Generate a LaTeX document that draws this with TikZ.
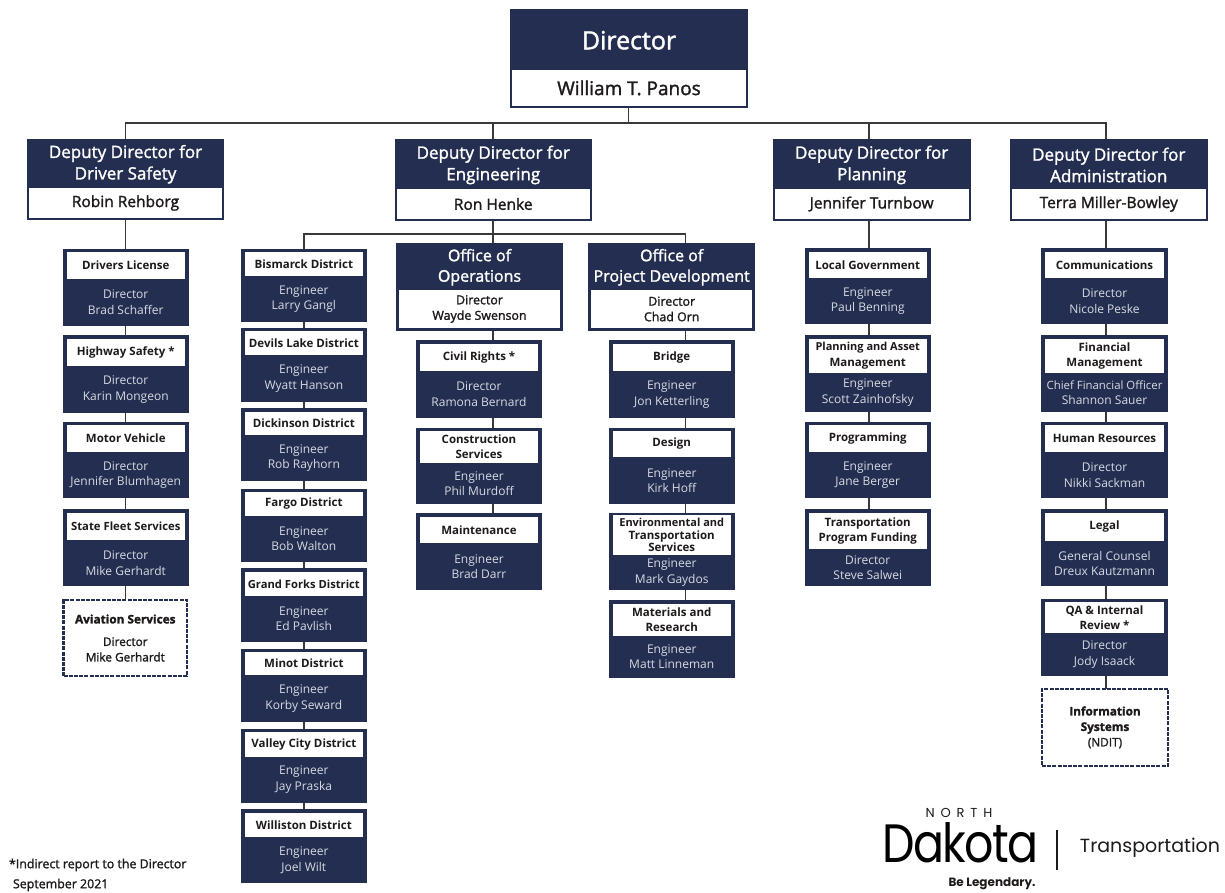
\documentclass[tikz,border=0pt]{standalone}
\usepackage{fontspec}
\setmainfont{Open Sans}
\newfontfamily\semi[FakeBold=1.6]{Open Sans}
\newfontfamily\logofont{Poppins}
\newfontfamily\logoheavy[FakeBold=1.5]{Poppins}
\definecolor{navy}{HTML}{232E50}
\definecolor{soft}{HTML}{D8DBE4}
\definecolor{ink}{HTML}{1E1A1A}
\definecolor{wire}{HTML}{3A3838}
\tikzset{
  navyrect/.style={rectangle,fill=navy,inner sep=0pt,outer sep=0pt},
  whiterect/.style={rectangle,fill=white,inner sep=0pt,outer sep=0pt},
  dashrect/.style={rectangle,fill=white,draw=navy,line width=2.4pt,dash pattern=on 4pt off 1.2pt,inner sep=0pt,outer sep=0pt},
  label/.style={inner sep=0pt,outer sep=0pt,align=center},
  wirelink/.style={draw=wire,line width=1.5pt},
  note/.style={inner sep=0pt,outer sep=0pt,anchor=west,text=ink,font=\semi\fontsize{12.4}{14}\selectfont}
}
\def\ins{4}
% unit: white title strip on top, navy body with text below
\newcommand{\orgunit}[9]{%
  \node[navyrect,minimum width={(#4-#2)*1pt},minimum height={(#5-#3)*1pt}] (#1) at ({(#2+#4)/2},{(#3+#5)/2}) {};
  \node[whiterect,minimum width={(#4-#2-2*\ins)*1pt},minimum height={(#7-#6)*1pt}] (#1w) at ({(#2+#4)/2},{(#6+#7)/2}) {};
  \node[label,text=ink,font=\fontsize{11.5}{15.2}\selectfont\bfseries] (#1t) at (#1w) {#8};
  \node[label,text=soft,font=\fontsize{12}{15.5}\selectfont] (#1s) at ({(#2+#4)/2},{(#7+#5)/2}) {#9};
}
% head: navy title on top, white strip with dark text below
\newcommand{\headunit}[9]{%
  \node[navyrect,minimum width={(#4-#2)*1pt},minimum height={(#5-#3)*1pt}] (#1) at ({(#2+#4)/2},{(#3+#5)/2}) {};
  \node[whiterect,minimum width={(#4-#2-2*\ins)*1pt},minimum height={(#7-#6)*1pt}] (#1w) at ({(#2+#4)/2},{(#6+#7)/2}) {};
  \node[label,text=white,font=\headtitle] (#1t) at ({(#2+#4)/2},{(#3+#6)/2+1}) {#8};
  \node[label,text=ink,font=\headsub] (#1s) at (#1w) {#9};
}
\newcommand{\dashunit}[6]{%
  \node[dashrect,minimum width={(#4-#2)*1pt},minimum height={(#5-#3)*1pt}] (#1) at ({(#2+#4)/2},{(#3+#5)/2}) {};
  \node[label,text=ink,font=\semi\fontsize{11.8}{15.5}\selectfont] (#1t) at (#1) {#6};
}
\begin{document}
\begin{tikzpicture}[x=1pt,y=-1pt]
\useasboundingbox (0,0) rectangle (1225,892);
% --- Top level
\def\ins{2}
\def\headtitle{\semi\fontsize{25}{29}\selectfont}
\def\headsub{\semi\fontsize{19}{22}\selectfont}
\headunit{dir}{510}{8.5}{748}{108}{70}{106}{Director}{William T. Panos}
\def\headtitle{\semi\fontsize{17}{21.5}\selectfont}
\def\headsub{\semi\fontsize{15.5}{18}\selectfont}
\headunit{ds}{27}{138.5}{224}{220}{188}{218}{Deputy Director for\\Driver Safety}{Robin Rehborg}
\headunit{en}{394.5}{139}{592}{221}{189}{219}{Deputy Director for\\Engineering}{Ron Henke}
\headunit{pl}{772.6}{139}{970.7}{221}{189}{219}{Deputy Director for\\Planning}{Jennifer Turnbow}
\headunit{ad}{1009.7}{139}{1207.8}{221}{189}{219}{Deputy Director for\\Administration}{Terra Miller-Bowley}
\def\ins{3}
\def\headtitle{\semi\fontsize{16}{20.5}\selectfont}
\def\headsub{\semi\fontsize{12.4}{15.5}\selectfont}
\headunit{op}{396}{242.5}{563}{331}{290}{328}{Office of\\Operations}{Director\\Wayde Swenson}
\headunit{pd}{588}{242.5}{755.4}{331}{290}{328}{Office of\\Project Development}{Director\\Chad Orn}
\def\ins{4}
% --- Driver safety column
\orgunit{dl}{62.5}{248.5}{189}{325.7}{252}{279}{Drivers License}{Director\\Brad Schaffer}
\orgunit{hs}{62.5}{335}{189}{412.7}{339}{366}{Highway Safety *}{Director\\Karin Mongeon}
\orgunit{mv}{62.5}{421.7}{189}{498.3}{425}{452}{Motor Vehicle}{Director\\Jennifer Blumhagen}
\orgunit{sf}{62.5}{509}{189}{586}{512.5}{540}{\fontsize{11.3}{15.2}\selectfont State Fleet Services}{Director\\Mike Gerhardt}
\dashunit{av}{63.6}{600}{187}{676}{{\bfseries Aviation Services}\\[7pt]Director\\Mike Gerhardt}
% --- Districts
\orgunit{bi}{240.7}{248.5}{367}{321.7}{252}{276}{Bismarck District}{Engineer\\Larry Gangl}
\orgunit{de}{240.7}{328}{367}{401.7}{331}{355}{Devils Lake District}{Engineer\\Wyatt Hanson}
\orgunit{di}{240.7}{408}{367}{481}{411.7}{435}{Dickinson District}{Engineer\\Rob Rayhorn}
\orgunit{fa}{240.7}{489}{367}{561.7}{491.7}{515.7}{Fargo District}{Engineer\\Bob Walton}
\orgunit{gf}{240.7}{568}{367}{642}{572}{595.7}{\fontsize{11.2}{15.2}\selectfont Grand Forks District}{Engineer\\Ed Pavlish}
\orgunit{mi}{240.7}{649}{367}{722}{652}{675}{Minot District}{Engineer\\Korby Seward}
\orgunit{vc}{240.7}{729}{367}{802.7}{732}{756.7}{Valley City District}{Engineer\\Jay Praska}
\orgunit{wi}{240.7}{809.3}{367}{883}{812.7}{837}{Williston District}{Engineer\\Joel Wilt}
% --- Operations
\orgunit{cr}{416}{340}{542}{417.7}{344}{370.7}{Civil Rights *}{Director\\Ramona Bernard}
\orgunit{cs}{416}{427.7}{542}{504}{431}{463}{Construction\\Services}{Engineer\\Phil Murdoff}
\orgunit{ma}{416}{513}{542}{590}{516.7}{543}{Maintenance}{Engineer\\Brad Darr}
% --- Project development
\orgunit{br}{608.8}{340}{734.7}{417.7}{344}{371}{Bridge}{Engineer\\Jon Ketterling}
\orgunit{de2}{608.8}{428}{734.7}{504}{431}{457}{Design}{Engineer\\Kirk Hoff}
\orgunit{ev}{608.8}{513}{734.7}{590}{515}{555}{\fontsize{11}{15.2}\selectfont Environmental and\\[-2.5pt]Transportation\\[-2.5pt]Services}{Engineer\\Mark Gaydos}
\orgunit{mt}{608.8}{600}{734.7}{678}{604}{635.7}{Materials and\\Research}{Engineer\\Matt Linneman}
% --- Planning
\orgunit{lg}{804.5}{247.7}{931}{323.7}{252}{278}{Local Government}{Engineer\\Paul Benning}
\orgunit{pa}{804.5}{335}{931}{412}{338.5}{373}{\fontsize{11}{15.2}\selectfont Planning and Asset\\Management}{Engineer\\Scott Zainhofsky}
\orgunit{pr}{804.5}{421.7}{931}{498.3}{425}{452}{Programming}{Engineer\\Jane Berger}
\orgunit{tp}{804.5}{509}{931}{586}{512.7}{549}{Transportation\\Program Funding}{Director\\Steve Salwei}
% --- Administration
\orgunit{co}{1041}{248}{1168}{324}{252}{278}{Communications}{Director\\Nicole Peske}
\orgunit{fm}{1041}{335}{1168}{412}{338.5}{373}{Financial\\Management}{\fontsize{11.4}{15.5}\selectfont Chief Financial Officer\\Shannon Sauer}
\orgunit{hr}{1041}{421.7}{1168}{498.3}{425}{452}{Human Resources}{Director\\Nikki Sackman}
\orgunit{le}{1041}{509}{1168}{586}{512.7}{541}{Legal}{General Counsel\\Dreux Kautzmann}
\orgunit{qa}{1041}{599}{1168}{675.7}{602}{633}{QA \& Internal\\Review *}{Director\\Jody Isaack}
\dashunit{is}{1042}{689}{1168}{765.7}{{\bfseries Information}\\{\bfseries Systems}\\(NDIT)}
% --- Connector guides
\coordinate (busA) at (628.7,123);
\coordinate (busB) at (493,234);
\coordinate (xdl) at (125.7,0);
\coordinate (xbi) at (303.8,0);
\coordinate (xen) at (493,0);
\coordinate (xpd) at (685.7,0);
\coordinate (xpl) at (869,0);
\coordinate (xad) at (1106,0);
% --- Connectors
\draw[wirelink] (dir.south -| busA) -- (busA);
\draw[wirelink] (ds.north -| xdl) -- (busA -| xdl) -- (busA -| xad) -- (ad.north -| xad);
\draw[wirelink] (en.north -| xen) -- (busA -| xen);
\draw[wirelink] (pl.north -| xpl) -- (busA -| xpl);
\draw[wirelink] (en.south -| xen) -- (op.north -| xen);
\draw[wirelink] (bi.north -| xbi) -- (busB -| xbi) -- (busB -| xpd) -- (pd.north -| xpd);
\foreach \a/\b in {ds/dl,dl/hs,hs/mv,mv/sf,sf/av}
  \draw[wirelink] (\a.south -| xdl) -- (\b.north -| xdl);
\foreach \a/\b in {bi/de,de/di,di/fa,fa/gf,gf/mi,mi/vc,vc/wi}
  \draw[wirelink] (\a.south -| xbi) -- (\b.north -| xbi);
\foreach \a/\b in {op/cr,cr/cs,cs/ma}
  \draw[wirelink] (\a.south -| xen) -- (\b.north -| xen);
\foreach \a/\b in {pd/br,br/de2,de2/ev,ev/mt}
  \draw[wirelink] (\a.south -| xpd) -- (\b.north -| xpd);
\foreach \a/\b in {pl/lg,lg/pa,pa/pr,pr/tp}
  \draw[wirelink] (\a.south -| xpl) -- (\b.north -| xpl);
\foreach \a/\b in {ad/co,co/fm,fm/hr,hr/le,le/qa,qa/is}
  \draw[wirelink] (\a.south -| xad) -- (\b.north -| xad);
% --- Footnotes
\node[note] (fn1) at (9,865) {*Indirect report to the Director};
\node[note] (fn2) at (13,885) {September 2021};
% --- Logo
\node[inner sep=0pt,text=ink,font=\logofont\fontsize{13}{15}\selectfont\addfontfeatures{LetterSpace=45}] (north) at (959,813) {NORTH};
\node[inner sep=0pt,anchor=base,text=black,text height=36pt,text depth=0pt,font=\logofont\fontsize{54}{60}\selectfont\addfontfeatures{LetterSpace=-4},xscale=0.85] (dakota) at (960.5,862) {Dakota};
\node[inner sep=0pt,text=ink,font=\logofont\fontsize{19}{22}\selectfont] (transp) at (1150,848) {Transportation};
\node[inner sep=0pt,text=ink,text height=9pt,text depth=2.5pt,font=\logofont\fontsize{12}{14}\selectfont\bfseries] (legend) at (992,883) {Be Legendary.};
\draw[draw=ink,line width=1.4pt] (1057,830) -- (1057,870);
\end{tikzpicture}
\end{document}
